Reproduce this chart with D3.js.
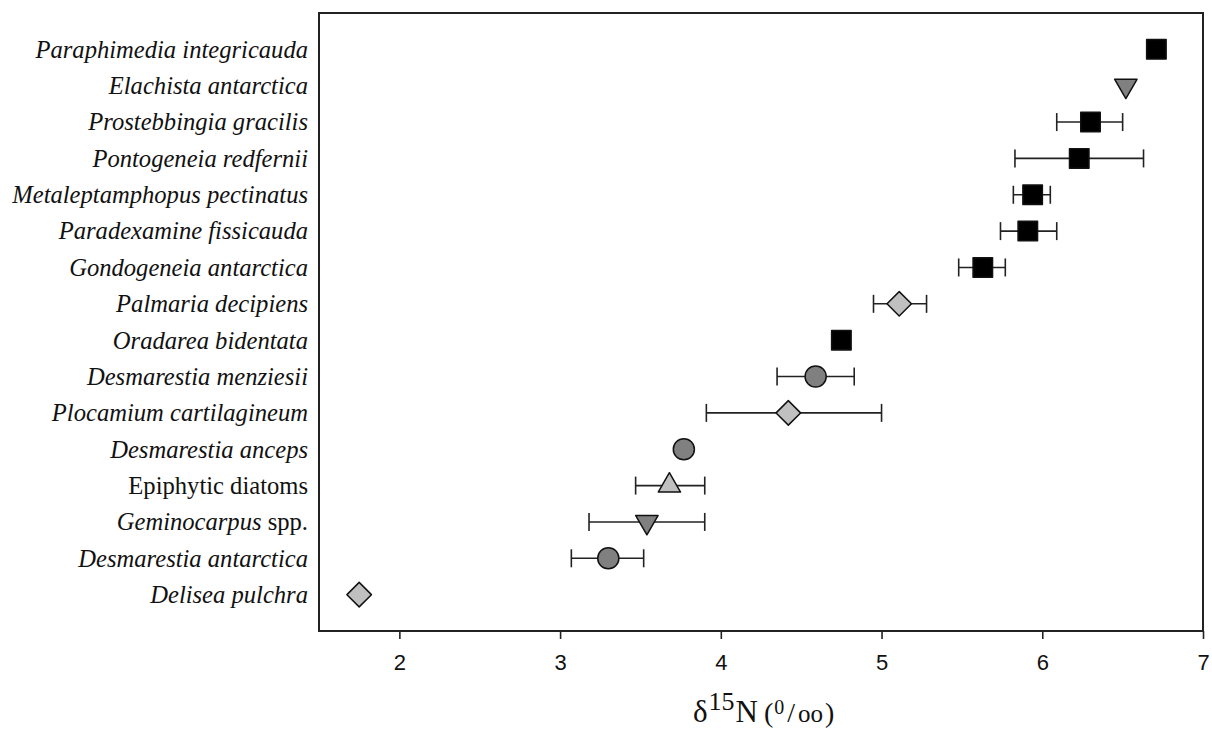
<!DOCTYPE html>
<html>
<head>
<meta charset="utf-8">
<script src="https://cdn.jsdelivr.net/npm/d3@7"></script>
<style>
  body { margin: 0; background: #fff; }
  svg { display: block; }
</style>
</head>
<body>
<svg id="chart"></svg>
<script>
// rows from top to bottom
const species = [
  "Paraphimedia integricauda",
  "Elachista antarctica",
  "Prostebbingia gracilis",
  "Pontogeneia redfernii",
  "Metaleptamphopus pectinatus",
  "Paradexamine fissicauda",
  "Gondogeneia antarctica",
  "Palmaria decipiens",
  "Oradarea bidentata",
  "Desmarestia menziesii",
  "Plocamium cartilagineum",
  "Desmarestia anceps",
  "Epiphytic diatoms",
  "Geminocarpus spp.",
  "Desmarestia antarctica",
  "Delisea pulchra"
];
const meanN = [6.71, 6.52, 6.30, 6.23, 5.94, 5.91, 5.63, 5.11, 4.75, 4.59, 4.42, 3.77, 3.68, 3.54, 3.30, 1.75];
const lowN  = [null, null, 6.09, 5.83, 5.82, 5.74, 5.48, 4.95, null, 4.35, 3.91, null, 3.47, 3.18, 3.07, null];
const highN = [null, null, 6.50, 6.63, 6.05, 6.09, 5.77, 5.28, null, 4.83, 5.00, null, 3.90, 3.90, 3.52, null];
const marker = ["square", "tridown", "square", "square", "square", "square", "square", "diamond",
                "square", "circle", "diamond", "circle", "triup", "tridown", "circle", "diamond"];
const xTicks = [2, 3, 4, 5, 6, 7];
const uprightNames = ["Epiphytic diatoms"];

const width = 1212, height = 732;
const mLeft = 319, mRight = 1203, mTop = 13, mBottom = 631;

const svg = d3.select("#chart").attr("width", width).attr("height", height);

const x = d3.scaleLinear().domain([1.5, 7]).range([mLeft, mRight]);
const y = d3.scalePoint().domain(species).range([mTop, mBottom]).padding(1);

const rows = species.map((s, i) => ({ name: s, mean: meanN[i], lo: lowN[i], hi: highN[i], mk: marker[i] }));

// x axis
const xAxis = svg.append("g")
  .attr("transform", `translate(0,${mBottom})`)
  .call(d3.axisBottom(x).tickValues(xTicks).tickSize(8).tickPadding(15).tickFormat(d3.format("d")));
xAxis.select(".domain").remove();
xAxis.selectAll(".tick line").attr("stroke", "#222").attr("stroke-width", 1.6);
xAxis.selectAll(".tick text")
  .attr("font-family", "Liberation Sans, Arial, sans-serif")
  .attr("font-size", 22)
  .attr("fill", "#111");

// frame
svg.append("rect")
  .attr("x", mLeft).attr("y", mTop)
  .attr("width", mRight - mLeft).attr("height", mBottom - mTop)
  .attr("fill", "none").attr("stroke", "#222").attr("stroke-width", 2);

// species labels
const lab = svg.append("g")
  .selectAll("text")
  .data(rows)
  .join("text")
  .attr("x", mLeft - 11)
  .attr("y", d => y(d.name))
  .attr("dy", "0.34em")
  .attr("text-anchor", "end")
  .attr("font-family", "Liberation Serif, Times New Roman, serif")
  .attr("font-size", 24.6)
  .attr("fill", "#111");
lab.each(function(d) {
  const t = d3.select(this);
  if (uprightNames.includes(d.name)) {
    t.text(d.name);
  } else if (d.name.endsWith(" spp.")) {
    t.append("tspan").attr("font-style", "italic").text(d.name.replace(" spp.", ""));
    t.append("tspan").text(" spp.");
  } else {
    t.attr("font-style", "italic").text(d.name);
  }
});

// error bars
const eb = svg.append("g")
  .attr("stroke", "#222").attr("stroke-width", 1.6)
  .selectAll("g")
  .data(rows.filter(d => d.lo != null))
  .join("g");
eb.append("line")
  .attr("x1", d => x(d.lo)).attr("x2", d => x(d.hi))
  .attr("y1", d => y(d.name)).attr("y2", d => y(d.name));
eb.append("line")
  .attr("x1", d => x(d.lo)).attr("x2", d => x(d.lo))
  .attr("y1", d => y(d.name) - 9).attr("y2", d => y(d.name) + 9);
eb.append("line")
  .attr("x1", d => x(d.hi)).attr("x2", d => x(d.hi))
  .attr("y1", d => y(d.name) - 9).attr("y2", d => y(d.name) + 9);

// markers
const style = {
  square:  { type: d3.symbolSquare,   size: 380, fill: "#000000", rot: 0 },
  circle:  { type: d3.symbolCircle,   size: 350, fill: "#808080", rot: 0 },
  diamond: { type: d3.symbolSquare,   size: 300, fill: "#c0c0c0", rot: 45 },
  triup:   { type: d3.symbolTriangle, size: 215, fill: "#c0c0c0", rot: 0 },
  tridown: { type: d3.symbolTriangle, size: 215, fill: "#808080", rot: 180 }
};
svg.append("g")
  .selectAll("path")
  .data(rows)
  .join("path")
  .attr("transform", d => `translate(${x(d.mean)},${y(d.name)}) rotate(${style[d.mk].rot})`)
  .attr("d", d => d3.symbol().type(style[d.mk].type).size(style[d.mk].size)())
  .attr("fill", d => style[d.mk].fill)
  .attr("stroke", "#111")
  .attr("stroke-width", 1.5)
  .attr("stroke-linejoin", "round");

// axis title: delta 15N (permil)
const title = svg.append("text")
  .attr("x", 693)
  .attr("y", 722)
  .attr("font-family", "Liberation Serif, Times New Roman, serif")
  .attr("font-size", 31)
  .attr("fill", "#111");
title.append("tspan").text("δ");
title.append("tspan").attr("font-size", 26).attr("dy", -12).attr("dx", 1).text("15");
title.append("tspan").attr("dy", 12).attr("dx", 1).text("N");
title.append("tspan").attr("font-size", 28).attr("dx", 6).text("(");
title.append("tspan").attr("font-size", 20).attr("dy", -8).attr("dx", 1).text("0");
title.append("tspan").attr("font-size", 28).attr("dy", 8).attr("dx", 3).text("/");
title.append("tspan").attr("font-size", 25).attr("dx", 3).text("oo");
title.append("tspan").attr("font-size", 28).attr("dx", 2).text(")");
</script>
</body>
</html>
